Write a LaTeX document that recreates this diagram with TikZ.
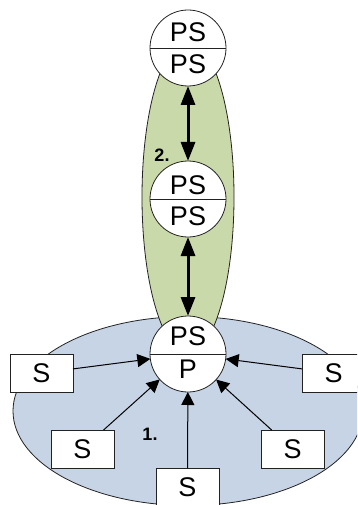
\documentclass[tikz,border=0pt]{standalone}
\usepackage{fontspec}
\setmainfont{Liberation Sans}
\usetikzlibrary{arrows.meta}
\definecolor{bluefill}{HTML}{C6D4E5}
\definecolor{greenfill}{HTML}{C9D9A9}
\definecolor{edge}{HTML}{222222}
\tikzset{
  px/.style={x=1pt,y=-1pt},
  region/.style={draw=edge,line width=0.8pt},
  role/.style={draw=edge,line width=0.8pt,fill=white,circle,minimum size=76pt,inner sep=0pt,outer sep=0pt},
  slave/.style={draw=edge,line width=0.8pt,fill=white,rectangle,minimum width=63pt,minimum height=38pt,inner sep=0pt,outer sep=0pt,font=\fontsize{27}{30}\selectfont},
  rolename/.style={inner sep=0pt,font=\fontsize{27}{30}\selectfont},
  num/.style={inner sep=0pt,font=\fontsize{18}{20}\selectfont\bfseries},
  thin link/.style={draw=black,line width=1pt,-{Triangle[length=13pt,width=13pt]}},
  thick link/.style={draw=black,line width=3pt,{Triangle[length=19pt,width=14pt]}-{Triangle[length=19pt,width=14pt]}},
}
\begin{document}
\begin{tikzpicture}[px]
\useasboundingbox (0,0) rectangle (357,505);
\clip (0,0) rectangle (357,505);
\draw[region,fill=bluefill] (188,411) ellipse [x radius=175,y radius=94.5];
\draw[region,fill=greenfill] (188,197) ellipse [x radius=46,y radius=156];
\node[role] (top) at (188,48) {};
\node[role] (mid) at (188,199) {};
\node[role] (bot) at (188,354) {};
\draw[line width=0.8pt,draw=edge] (top.west) -- (top.east);
\draw[line width=0.8pt,draw=edge] (mid.west) -- (mid.east);
\draw[line width=0.8pt,draw=edge] (bot.west) -- (bot.east);
\node[rolename] (t1) at (188,32) {PS};
\node[rolename] (t2) at (188,64) {PS};
\node[rolename] (m1) at (188,185) {PS};
\node[rolename] (m2) at (188,216) {PS};
\node[rolename] (b1) at (188,336) {PS};
\node[rolename] (b2) at (188,369) {P};
\node[slave] (s1) at (41.5,373) {S};
\node[slave] (s2) at (82.5,449) {S};
\node[slave] (s3) at (187.5,487) {S};
\node[slave] (s4) at (292.5,449) {S};
\node[slave] (s5) at (333.5,373) {S};
\draw[thin link] (s1) -- (bot);
\draw[thin link] (s2) -- (bot);
\draw[thin link] (s3) -- (bot);
\draw[thin link] (s4) -- (bot);
\draw[thin link] (s5) -- (bot);
\draw[thick link] (top) -- (mid);
\draw[thick link] (mid) -- (bot);
\node[num] (n2) at (162,155) {2.};
\node[num] (n1) at (150,434) {1.};
\end{tikzpicture}
\end{document}
